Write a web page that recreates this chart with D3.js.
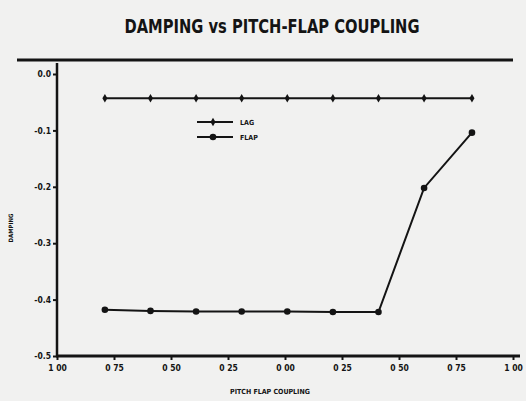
<!DOCTYPE html>
<html>
<head>
<meta charset="utf-8">
<script src="https://cdn.jsdelivr.net/npm/d3@7"></script>
<style>
  html, body { margin: 0; padding: 0; background: #f1f1f0; }
  svg { display: block; }
  text { font-family: "Liberation Sans Narrow", "DejaVu Sans Condensed", sans-serif; font-weight: bold; fill: #141414; }
</style>
</head>
<body>
<svg id="chart" width="526" height="401"></svg>
<script>
// ---- data ----
const title = "DAMPING vs PITCH-FLAP COUPLING";
const xLabel = "PITCH FLAP COUPLING";
const yLabel = "DAMPING";
const xValues = [-0.79, -0.59, -0.39, -0.19, 0.01, 0.21, 0.41, 0.61, 0.82];
const lagValues  = [-0.043, -0.043, -0.043, -0.043, -0.043, -0.043, -0.043, -0.043, -0.043];
const flapValues = [-0.418, -0.420, -0.421, -0.421, -0.421, -0.422, -0.422, -0.202, -0.104];
const xTicks = [-1.0, -0.75, -0.5, -0.25, 0.0, 0.25, 0.5, 0.75, 1.0];
const xTickLabels = ["1 00", "0 75", "0 50", "0 25", "0 00", "0 25", "0 50", "0 75", "1 00"];
const yTicks = [0.0, -0.1, -0.2, -0.3, -0.4, -0.5];
const yTickLabels = ["0.0", "-0.1", "-0.2", "-0.3", "-0.4", "-0.5"];
const seriesNames = ["LAG", "FLAP"];

// ---- layout ----
const svg = d3.select("#chart");
const ink = "#141414";
const x = d3.scaleLinear().domain([-1, 1]).range([57, 513]);
const y = d3.scaleLinear().domain([0, -0.5]).range([74, 356]);

// title
svg.append("text").attr("x", 272).attr("y", 33).attr("text-anchor", "middle")
  .attr("font-size", 20).attr("textLength", 295).attr("lengthAdjust", "spacingAndGlyphs")
  .text(title);
svg.append("line").attr("x1", 17).attr("x2", 513).attr("y1", 60).attr("y2", 60)
  .attr("stroke", ink).attr("stroke-width", 3);

// axes
const yAxis = d3.axisLeft(y).tickValues(yTicks).tickSize(4).tickSizeOuter(0)
  .tickFormat((d, i) => yTickLabels[i]);
const gy = svg.append("g").attr("transform", `translate(${x(-1)},0)`).call(yAxis);
gy.select(".domain").remove();
gy.selectAll(".tick line").attr("stroke", ink).attr("stroke-width", 2);
gy.selectAll(".tick text").attr("font-size", 8.5).attr("font-family", null).attr("x", -6);

const xAxis = d3.axisBottom(x).tickValues(xTicks).tickSize(4).tickSizeOuter(0)
  .tickFormat((d, i) => xTickLabels[i]);
const gx = svg.append("g").attr("transform", `translate(0,${y(-0.5)})`).call(xAxis);
gx.select(".domain").remove();
gx.selectAll(".tick line").attr("stroke", ink).attr("stroke-width", 2);
gx.selectAll(".tick text").attr("font-size", 8.5).attr("font-family", null).attr("y", 9);

// axis lines
svg.append("line").attr("x1", x(-1)).attr("x2", x(-1)).attr("y1", 63).attr("y2", y(-0.5) + 1)
  .attr("stroke", ink).attr("stroke-width", 2.5);
svg.append("line").attr("x1", x(-1) - 1).attr("x2", 520).attr("y1", y(-0.5)).attr("y2", y(-0.5))
  .attr("stroke", ink).attr("stroke-width", 3);

// axis labels
svg.append("text").attr("x", 270).attr("y", 394).attr("text-anchor", "middle")
  .attr("font-size", 7).text(xLabel);
svg.append("text").attr("transform", "translate(13,228) rotate(-90)").attr("text-anchor", "middle")
  .attr("font-size", 6).text(yLabel);

// series
const line = d3.line().x(d => x(d[0])).y(d => y(d[1]));
const lagPts = xValues.map((v, i) => [v, lagValues[i]]);
const flapPts = xValues.map((v, i) => [v, flapValues[i]]);

svg.append("path").datum(lagPts).attr("d", line).attr("fill", "none")
  .attr("stroke", ink).attr("stroke-width", 1.8);
svg.append("g").selectAll("path").data(lagPts).join("path")
  .attr("transform", d => `translate(${x(d[0])},${y(d[1])})`)
  .attr("d", d3.symbol(d3.symbolDiamond, 22)).attr("fill", ink);

svg.append("path").datum(flapPts).attr("d", line).attr("fill", "none")
  .attr("stroke", ink).attr("stroke-width", 2);
svg.append("g").selectAll("circle").data(flapPts).join("circle")
  .attr("cx", d => x(d[0])).attr("cy", d => y(d[1])).attr("r", 3.3).attr("fill", ink);

// legend
const lg = svg.append("g").attr("transform", "translate(197,122)");
seriesNames.forEach((name, i) => {
  const g = lg.append("g").attr("transform", `translate(0,${i * 15})`);
  g.append("line").attr("x1", 0).attr("x2", 36).attr("stroke", ink).attr("stroke-width", 1.8);
  if (i === 0) {
    g.append("path").attr("transform", "translate(16,0)").attr("d", d3.symbol(d3.symbolDiamond, 22)).attr("fill", ink);
  } else {
    g.append("circle").attr("cx", 16).attr("r", 3.3).attr("fill", ink);
  }
  g.append("text").attr("x", 43).attr("y", 3).attr("font-size", 7).text(name);
});
</script>
</body>
</html>
